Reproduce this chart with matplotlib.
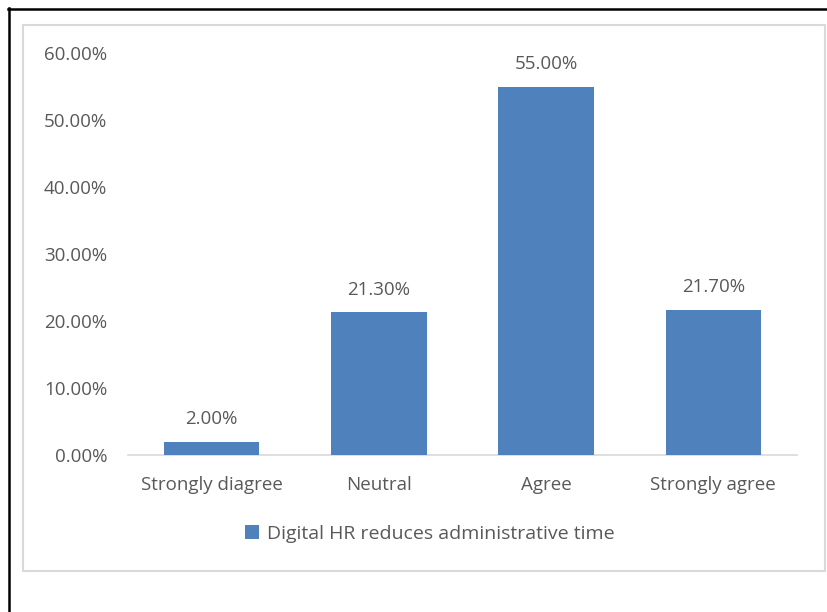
import matplotlib
matplotlib.use("Agg")
import matplotlib.pyplot as plt
from matplotlib.patches import Rectangle, Patch
from matplotlib.lines import Line2D
from matplotlib.ticker import FuncFormatter

categories = ["Strongly diagree", "Neutral", "Agree", "Strongly agree"]
values = [2.00, 21.30, 55.00, 21.70]
series_name = "Digital HR reduces administrative time"
yticks = [0, 10, 20, 30, 40, 50, 60]

BAR_COLOR = "#4F81BD"
TEXT_COLOR = "#595959"

plt.rcParams['font.family'] = ['Open Sans', 'DejaVu Sans']

W, H = 828, 612
fig = plt.figure(figsize=(W / 100, H / 100), dpi=100)

# outer frame lines (black) and chart area border (light gray)
fig.add_artist(Line2D([8 / W, 1], [1 - 9 / H, 1 - 9 / H], color="black", lw=1.8))
fig.add_artist(Line2D([9 / W, 9 / W], [0, 1 - 8 / H], color="black", lw=1.8))
fig.add_artist(Rectangle((23 / W, 1 - 571 / H), (825 - 23) / W, (571 - 25) / H,
                         fill=False, edgecolor="#D9D9D9", lw=1.5))

ax = fig.add_axes([128 / W, 1 - 455 / H, (797 - 128) / W, (455 - 53) / H])
x = range(len(categories))
bars = ax.bar(x, values, width=0.57, color=BAR_COLOR, label=series_name, zorder=3)

for b, v in zip(bars, values):
    ax.text(b.get_x() + b.get_width() / 2, v + 2.0, f"{v:.2f}%",
            ha="center", va="bottom", fontsize=13.5, color=TEXT_COLOR)

ax.set_xlim(-0.5, len(categories) - 0.5)
ax.set_ylim(0, 60)
ax.set_yticks(yticks)
ax.yaxis.set_major_formatter(FuncFormatter(lambda v, p: f"{v:.2f}%"))
ax.set_xticks(list(x))
ax.set_xticklabels(categories)
ax.tick_params(axis="both", length=0, labelsize=13.5, labelcolor=TEXT_COLOR)
ax.tick_params(axis="x", pad=15)
ax.tick_params(axis="y", pad=15)

for s in ["top", "right", "left"]:
    ax.spines[s].set_visible(False)
ax.spines["bottom"].set_color("#D9D9D9")
ax.spines["bottom"].set_linewidth(1.2)

handle = Patch(facecolor=BAR_COLOR, edgecolor="none")
fig.legend([handle], [series_name], loc="center", bbox_to_anchor=(430 / W, 1 - 534 / H),
           frameon=False, fontsize=14, labelcolor=TEXT_COLOR,
           handlelength=0.7, handleheight=0.7, handletextpad=0.4)

fig.savefig("out.png", dpi=100)
